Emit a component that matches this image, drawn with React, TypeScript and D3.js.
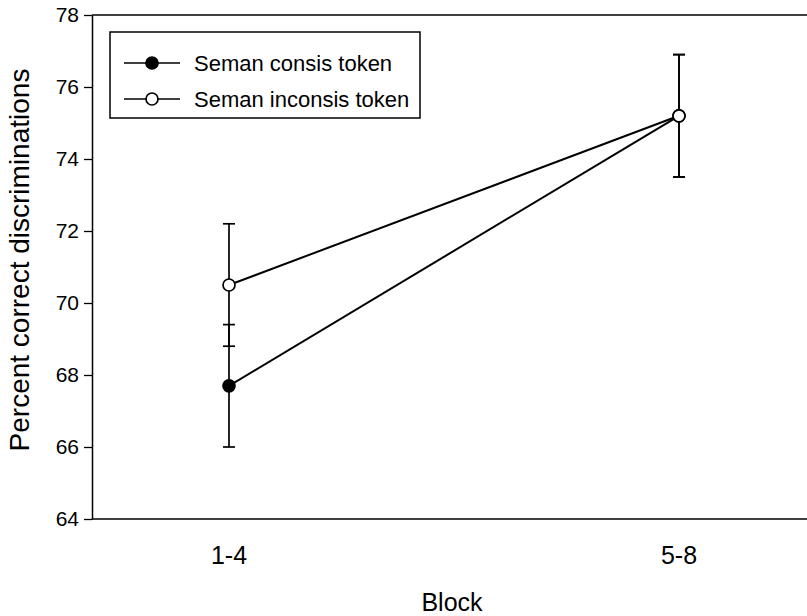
import React, { useEffect, useRef } from "react";
import * as d3 from "d3";

const blocks = ["1-4", "5-8"];
const consisMean = [67.7, 75.2];
const consisErr = [1.7, 1.7];
const inconsisMean = [70.5, 75.2];
const inconsisErr = [1.7, 1.7];
const yTicks = [64, 66, 68, 70, 72, 74, 76, 78];
const seriesNames = ["Seman consis token", "Seman inconsis token"];

const FONT = "'Liberation Sans', Arial, Helvetica, sans-serif";

export default function App() {
  const ref = useRef<SVGSVGElement>(null);

  useEffect(() => {
    const svg = d3.select(ref.current);
    svg.selectAll("*").remove();
    const width = 807;
    const height = 616;
    const margin = { top: 15, right: 0, bottom: 97, left: 92 };

    const x = d3.scalePoint<string>().domain(blocks).range([229, 679]);
    const y = d3.scaleLinear().domain([64, 78]).range([height - margin.bottom, margin.top]);

    const series = [
      { name: seriesNames[0], mean: consisMean, err: consisErr, fill: "#000" },
      { name: seriesNames[1], mean: inconsisMean, err: inconsisErr, fill: "#fff" },
    ];

    // frame: top and bottom lines run to the right edge, no right side
    svg.append("line").attr("x1", margin.left).attr("x2", width).attr("y1", y(78)).attr("y2", y(78))
      .attr("stroke", "#000").attr("stroke-width", 1.5);
    svg.append("line").attr("x1", margin.left).attr("x2", width).attr("y1", y(64)).attr("y2", y(64))
      .attr("stroke", "#000").attr("stroke-width", 1.5);

    const yAxis = svg.append("g").attr("transform", `translate(${margin.left},0)`)
      .call(d3.axisLeft(y).tickValues(yTicks).tickFormat(d3.format("d")).tickSize(8).tickSizeOuter(0).tickPadding(5));
    yAxis.select(".domain").attr("stroke-width", 1.5);
    yAxis.selectAll(".tick line").attr("stroke-width", 1.3);
    yAxis.selectAll("text").style("font-family", FONT).style("font-size", "21px").attr("fill", "#000");

    svg.append("g").selectAll("text").data(blocks).join("text")
      .attr("x", (d) => x(d)!).attr("y", 564).attr("text-anchor", "middle")
      .style("font-family", FONT).style("font-size", "25px").text((d) => d);

    svg.append("text").attr("x", 452).attr("y", 611).attr("text-anchor", "middle")
      .style("font-family", FONT).style("font-size", "25px").text("Block");

    svg.append("text").attr("transform", `translate(29,${(y(64) + y(78)) / 2 - 7}) rotate(-90)`)
      .attr("text-anchor", "middle").style("font-family", FONT).style("font-size", "28px")
      .text("Percent correct discriminations");

    const line = d3.line<number>().x((d, i) => x(blocks[i])!).y((d) => y(d));

    series.forEach((s) => {
      svg.append("path").attr("d", line(s.mean)).attr("fill", "none").attr("stroke", "#000").attr("stroke-width", 2);
    });

    series.forEach((s) => {
      const g = svg.append("g").attr("stroke", "#000").attr("stroke-width", 1.7);
      s.mean.forEach((m, i) => {
        const cx = x(blocks[i])!;
        g.append("line").attr("x1", cx).attr("x2", cx).attr("y1", y(m - s.err[i])).attr("y2", y(m + s.err[i]));
        [m - s.err[i], m + s.err[i]].forEach((v) => {
          g.append("line").attr("x1", cx - 6).attr("x2", cx + 6).attr("y1", y(v)).attr("y2", y(v));
        });
      });
    });

    series.forEach((s) => {
      svg.append("g").selectAll("circle").data(s.mean).join("circle")
        .attr("cx", (d, i) => x(blocks[i])!).attr("cy", (d) => y(d)).attr("r", 6)
        .attr("fill", s.fill).attr("stroke", "#000").attr("stroke-width", 1.7);
    });

    // legend
    const lg = svg.append("g");
    lg.append("rect").attr("x", 110).attr("y", 32).attr("width", 310).attr("height", 86)
      .attr("fill", "#fff").attr("stroke", "#000").attr("stroke-width", 1.5);
    series.forEach((s, i) => {
      const ly = 63 + i * 36;
      lg.append("line").attr("x1", 124).attr("x2", 180).attr("y1", ly).attr("y2", ly)
        .attr("stroke", "#000").attr("stroke-width", 1.7);
      lg.append("circle").attr("cx", 152).attr("cy", ly).attr("r", 6)
        .attr("fill", s.fill).attr("stroke", "#000").attr("stroke-width", 1.7);
      lg.append("text").attr("x", 194).attr("y", ly + 8)
        .style("font-family", FONT).style("font-size", "22px").text(s.name);
    });
  }, []);

  return (
    <svg ref={ref} width="807" height="616" style={{ position: "absolute", left: 0, top: 0, background: "#fff" }}></svg>
  );
}
